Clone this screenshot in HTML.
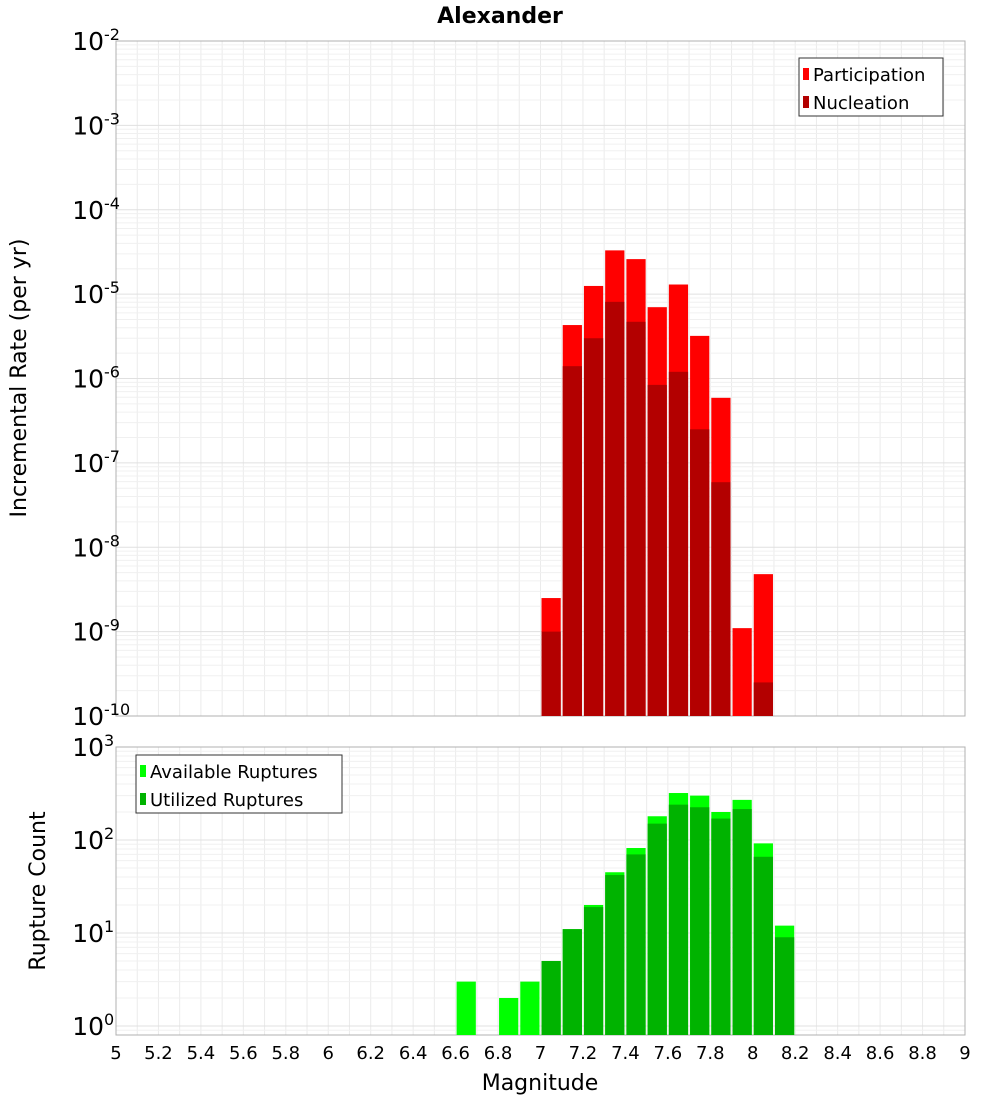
<!DOCTYPE html>
<html><head><meta charset="utf-8"><style>
body{margin:0;background:#fff;font-family:"Liberation Sans","DejaVu Sans",sans-serif}
svg text{font-family:"DejaVu Sans","Liberation Sans",sans-serif}
</style></head><body>
<svg id="c" width="1000" height="1100" xmlns="http://www.w3.org/2000/svg">
<text x="500" y="23" text-anchor="middle" font-size="22" font-weight="bold">Alexander</text>
</svg>
<script>
const mags=[6.65,6.75,6.85,6.95,7.05,7.15,7.25,7.35,7.45,7.55,7.65,7.75,7.85,7.95,8.05,8.15];
const participation=[0,0,0,0,2.5e-9,4.3e-6,1.25e-5,3.3e-5,2.6e-5,7.0e-6,1.3e-5,3.2e-6,5.9e-7,1.1e-9,4.8e-9,0];
const nucleation=[0,0,0,0,1.0e-9,1.4e-6,3.0e-6,8.1e-6,4.7e-6,8.4e-7,1.2e-6,2.5e-7,5.9e-8,0,2.5e-10,0];
const available=[3,0,2,3,5,11,20,45,82,180,320,300,200,270,92,12];
const utilized=[0,0,0,0,5,11,19,42,70,150,240,225,170,215,66,9];
const xTicks=[5,5.2,5.4,5.6,5.8,6,6.2,6.4,6.6,6.8,7,7.2,7.4,7.6,7.8,8,8.2,8.4,8.6,8.8,9];

const NS="http://www.w3.org/2000/svg",svg=document.getElementById('c');
function mk(t,a,p){const e=document.createElementNS(NS,t);for(const k in a)e.setAttribute(k,a[k]);(p||svg).appendChild(e);return e;}
const X0=116,X1=965;
const xs=m=>X0+(m-5)/4*(X1-X0);
function yScale(top,bot,lmax,lmin){return v=>top+(lmax-Math.log10(v))/(lmax-lmin)*(bot-top);}
function panel(top,bot,lmax,lmin,name){
  const ys=yScale(top,bot,lmax,lmin);
  const g=mk('g',{});
  
  
  for(let m=5;m<=9.0001;m+=0.1){const x=xs(m);mk('line',{x1:x,x2:x,y1:top,y2:bot,stroke:'#ebebeb','stroke-width':1},g);}
  for(let d=Math.floor(lmin);d<lmax;d++)for(let k=1;k<10;k++){const v=k*Math.pow(10,d);if(Math.log10(v)<lmin||Math.log10(v)>lmax)continue;const y=ys(v);mk('line',{x1:X0,x2:X1,y1:y,y2:y,stroke:k==1?'#e0e0e0':'#f0f0f0','stroke-width':1},g);}
  const fr=mk('rect',{x:X0,y:top,width:X1-X0,height:bot-top,fill:'none',stroke:'#b0b0b0'});
  
  
  for(let d=Math.ceil(lmin);d<=lmax;d++){const y=ys(Math.pow(10,d));
    const t=mk('text',{x:104,y:y+9,'text-anchor':'end','font-size':25});
    
    
    t.textContent='10';
    const s=mk('text',{x:104,y:y-1,'font-size':16});
    
    
    s.textContent=String(d);}
  return ys;
}
function bars(vals,ys,color,bot,name){
  vals.forEach((v,i)=>{if(!(v>0))return;const x=xs(mags[i]-0.05)+1,w=xs(mags[i]+0.05)-xs(mags[i]-0.05)-2;const y=Math.max(ys(v),0);
    const r=mk('rect',{x:x,y:y,width:w,height:bot-y,fill:color});
    
    });
}
const ys1=panel(41,716,-2,-10,'rate-panel');
bars(participation,ys1,'#ff0000',716,'participation-bar');
bars(nucleation,ys1,'#b30000',716,'nucleation-bar');
const ys2=panel(747,1035,3,Math.log10(0.8),'count-panel');
bars(available,ys2,'#00ff00',1035,'available-bar');
bars(utilized,ys2,'#00b300',1035,'utilized-bar');
xTicks.forEach(m=>{const t=mk('text',{x:xs(m),y:1059,'text-anchor':'middle','font-size':18});
  
  
  t.textContent=String(m);});
function label(txt,x,y,rot,name,fs){const t=mk('text',{x:x,y:y,'text-anchor':'middle','font-size':fs,transform:rot?`rotate(-90 ${x} ${y})`:''});
  
  
  t.textContent=txt;}
label('Magnitude',540,1090,false,'x-axis-title',22);
label('Incremental Rate (per yr)',26,378,true,'y-axis-title-rate',22);
label('Rupture Count',45,891,true,'y-axis-title-count',22);
function legend(x,y,w,items,name){
  const g=mk('g',{});
  
  
  mk('rect',{x:x,y:y,width:w,height:58,fill:'#fff',stroke:'#333'},g);
  items.forEach((it,i)=>{const yy=y+18+i*28;
    mk('rect',{x:x+4,y:yy-8,width:6,height:12,fill:it[1]},g);
    const t=mk('text',{x:x+14,y:yy+5,'font-size':18},g);
    
    
    t.textContent=it[0];});
}
legend(799,58,144,[['Participation','#ff0000'],['Nucleation','#b30000']],'rate-legend');
legend(136,755,206,[['Available Ruptures','#00ff00'],['Utilized Ruptures','#00b300']],'count-legend');
</script>
</body></html>
